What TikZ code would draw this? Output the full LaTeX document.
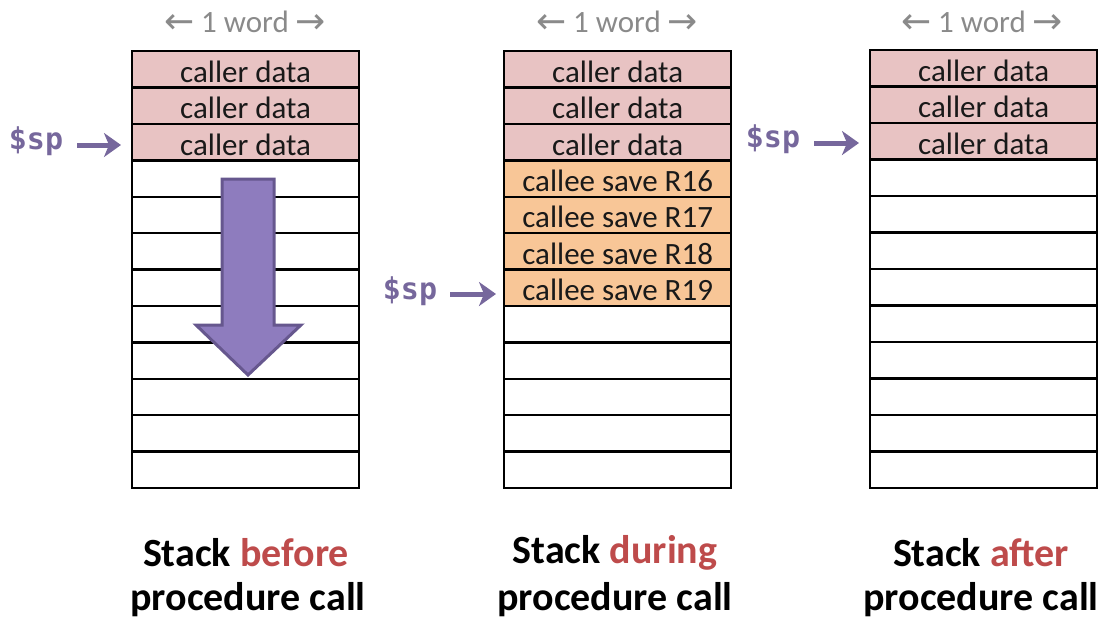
\documentclass[tikz,border=0pt]{standalone}
\usepackage{fontspec}
\setmainfont{Carlito}
\newfontfamily\monof{DejaVu Sans Mono}
\newfontfamily\arrf{DejaVu Sans}
\usetikzlibrary{arrows.meta}
\definecolor{pinkc}{HTML}{E8C3C3}
\definecolor{orangec}{HTML}{F8C697}
\definecolor{purp}{HTML}{76679C}
\definecolor{purpfill}{HTML}{8E7CBE}
\definecolor{purpline}{HTML}{66578E}
\definecolor{redt}{HTML}{BE4B4B}
\definecolor{grayt}{HTML}{8A8A8A}
\tikzset{
  cell/.style={draw, line width=2.3pt, minimum width=227pt, minimum height=36.4pt, inner sep=0pt, anchor=north west, text height=26pt, text depth=0pt, font=\fontsize{31}{31}\selectfont, text=black!90},
  caller/.style={cell, fill=pinkc},
  callee/.style={cell, fill=orangec},
  splabel/.style={font=\monof\bfseries\fontsize{30}{30}\selectfont, text=purp, inner sep=0pt},
  sparrow/.style={draw=purp, line width=5pt, -{Stealth[length=17pt,width=24pt,inset=5pt]}},
  wordlabel/.style={font=\fontsize{31}{31}\selectfont, text=grayt, inner sep=0pt},
  title/.style={font=\bfseries\fontsize{40}{40}\selectfont, inner sep=0pt}
}
\newcommand{\wordtxt}{{\arrf\fontsize{36}{36}\selectfont\raisebox{-1pt}{←}} 1 word {\arrf\fontsize{36}{36}\selectfont\raisebox{-1pt}{→}}}
\begin{document}
\begin{tikzpicture}[x=1pt,y=-1pt]
\useasboundingbox (0,0) rectangle (1114,625);
% stack A
\foreach \i in {3,...,11} \node[cell] (a\i) at (131,50+\i*36.4) {};
\foreach \i in {0,1,2} \node[caller] (a\i) at (131,50+\i*36.4) {caller data};
% stack B
\foreach \i in {7,...,11} \node[cell] (b\i) at (503,50+\i*36.4) {};
\foreach \i in {0,1,2} \node[caller] (b\i) at (503,50+\i*36.4) {caller data};
\node[callee] (b3) at (503,50+3*36.4) {callee save R16};
\node[callee] (b4) at (503,50+4*36.4) {callee save R17};
\node[callee] (b5) at (503,50+5*36.4) {callee save R18};
\node[callee] (b6) at (503,50+6*36.4) {callee save R19};
% stack C
\foreach \i in {3,...,11} \node[cell] (c\i) at (869,49+\i*36.5) {};
\foreach \i in {0,1,2} \node[caller] (c\i) at (869,49+\i*36.5) {caller data};
% big arrow
\draw[fill=purpfill, draw=purpline, line width=3pt, line join=miter]
  (222,179) -- (274,179) -- (274,325) -- (301,325) -- (248,375) -- (196,325) -- (222,325) -- cycle;
% word labels
\node[wordlabel] (wa) at (245,22) {\wordtxt};
\node[wordlabel] (wb) at (617,22) {\wordtxt};
\node[wordlabel] (wc) at (982,22) {\wordtxt};
% sp labels
\node[splabel] (spa) at (36,141) {\$sp};
\node[splabel] (spb) at (410,291) {\$sp};
\node[splabel] (spc) at (773,139) {\$sp};
\coordinate (ta) at (121,145);
\coordinate (tb) at (496,294);
\coordinate (tc) at (859,143);
\draw[sparrow] (77,145) -- (ta);
\draw[sparrow] (450,294) -- (tb);
\draw[sparrow] (814,143) -- (tc);
% titles
\node[title] (t1a) at (246,553) {Stack \textcolor{redt}{before}};
\node[title] (t2a) at (248,600) {procedure call};
\node[title] (t1b) at (615,553) {Stack \textcolor{redt}{during}};
\node[title] (t2b) at (615,600) {procedure call};
\node[title] (t1c) at (981,553) {Stack \textcolor{redt}{after}};
\node[title] (t2c) at (981,600) {procedure call};
\end{tikzpicture}
\end{document}
